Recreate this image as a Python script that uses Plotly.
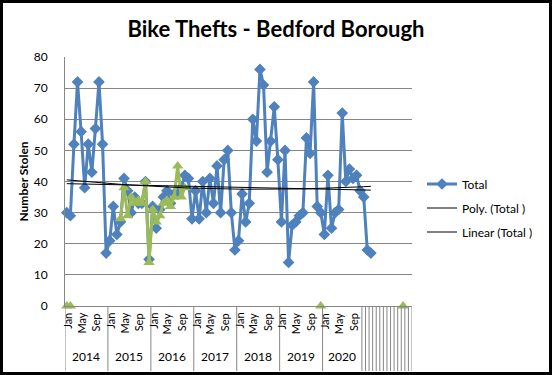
import numpy as np
import plotly.graph_objects as go

# ---------------- data ----------------
years = ["2014", "2015", "2016", "2017", "2018", "2019", "2020"]
months_in_group = [12, 12, 12, 12, 12, 12, 11]
month_labels = {0: "Jan", 4: "May", 8: "Sep"}
n_blank = 14  # unlabeled trailing categories

total = [30, 29, 52, 72, 56, 38, 52, 43, 57, 72, 52, 17,
         21, 32, 23, 27, 41, 37, 30, 35, 33, 33, 40, 15,
         32, 25, 31, 35, 37, 33, 36, 36, 38, 42, 41, 28,
         37, 28, 40, 30, 41, 33, 45, 30, 47, 50, 30, 18,
         21, 36, 27, 33, 60, 53, 76, 71, 43, 53, 64, 47,
         27, 50, 14, 26, 27, 29, 30, 54, 49, 72, 32, 30,
         23, 42, 25, 30, 31, 62, 40, 44, 41, 42, 37, 35,
         18, 17]

green_idx = [0, 1, 15, 16, 17, 18, 19, 20, 21, 22, 23, 24, 25, 26, 27, 28, 29,
             30, 31, 32, 33, 71, 94]
green_val = [0, 0, 28, 38, 29, 35, 33, 34, 33, 40, 14, 31, 27, 29, 33, 34, 32,
             35, 45, 35, 38, 0, 0]

# ---------------- derived ----------------
n_cat = sum(months_in_group) + n_blank
x_total = np.arange(len(total))
green = [None] * n_cat
for i, v in zip(green_idx, green_val):
    green[i] = v

lin = np.polyval(np.polyfit(x_total, total, 1), x_total)
poly = np.polyval(np.polyfit(x_total, total, 2), x_total)

W, H = 552, 375
ML, MR, MT, MB = 65, 140, 57, 69
PW, PH = W - ML - MR, H - MT - MB

def py(pixel_y):  # pixel row -> paper y
    return (H - MB - pixel_y) / PH

def px(pixel_x):
    return (pixel_x - ML) / PW

FONT = "Lato"
BLUE = "#4F81BD"
GREEN = "#9BBB59"
GRID = "#868686"

fig = go.Figure()
fig.add_trace(go.Scatter(
    x=x_total, y=total, mode="lines+markers", name="Total",
    line=dict(color=BLUE, width=3),
    marker=dict(symbol="diamond", size=9, color=BLUE),
    legendgroup="a", cliponaxis=False))
fig.add_trace(go.Scatter(
    x=list(range(n_cat)), y=green, mode="lines+markers", name="Other",
    line=dict(color=GREEN, width=3),
    marker=dict(symbol="triangle-up", size=10, color=GREEN),
    showlegend=False, connectgaps=False, cliponaxis=False))
fig.add_trace(go.Scatter(
    x=x_total, y=poly, mode="lines", name="Poly. (Total )",
    line=dict(color="black", width=1), legendgroup="b"))
fig.add_trace(go.Scatter(
    x=x_total, y=lin, mode="lines", name="Linear (Total )",
    line=dict(color="black", width=1), legendgroup="c"))

# category group dividers
starts = np.concatenate([[0], np.cumsum(months_in_group)])
bounds = list(starts - 0.5) + [starts[-1] + k + 0.5 for k in range(n_blank)]
shapes = []
for b in bounds:
    shapes.append(dict(type="line", xref="x", yref="paper", x0=b, x1=b,
                       y0=0, y1=py(371), line=dict(color=GRID, width=1)))
# outer border
shapes.append(dict(type="rect", xref="paper", yref="paper",
                   x0=px(1.5), x1=px(W - 1.5), y0=py(H - 1.5), y1=py(1.5),
                   line=dict(color="black", width=3)))

annotations = []
for s, n, yr in zip(starts, months_in_group, years):
    for m, lab in month_labels.items():
        if m < n:
            annotations.append(dict(x=s + m, y=py(311), xref="x", yref="paper",
                                    text=lab, textangle=-90, showarrow=False,
                                    xanchor="center", yanchor="top",
                                    font=dict(family=FONT, size=11, color="black")))
    annotations.append(dict(x=s + (n - 1) / 2, y=py(357), xref="x", yref="paper",
                            text=yr, showarrow=False, xanchor="center", yanchor="middle",
                            font=dict(family=FONT, size=12, color="black")))

fig.update_layout(
    width=W, height=H,
    margin=dict(l=ML, r=MR, t=MT, b=MB, pad=0),
    paper_bgcolor="white", plot_bgcolor="white",
    font=dict(family=FONT, size=12, color="black"),
    title=dict(text="<b>Bike Thefts - Bedford Borough</b>", x=0.5, xref="container",
               y=1 - 29 / H, yref="container", xanchor="center", yanchor="middle",
               font=dict(family=FONT, size=22, color="black")),
    xaxis=dict(range=[-0.5, n_cat - 0.5], showgrid=False, zeroline=False,
               showticklabels=False, showline=True, linecolor=GRID, linewidth=1,
               ticks=""),
    yaxis=dict(range=[0, 80], dtick=10, showgrid=True, gridcolor=GRID, gridwidth=1,
               zeroline=False, showline=True, linecolor=GRID, linewidth=1,
               ticks="", ticklabelstandoff=14,
               tickfont=dict(family=FONT, size=12, color="black"),
               title=dict(text="<b>Number Stolen</b>", standoff=2,
                          font=dict(family=FONT, size=12, color="black"))),
    legend=dict(x=px(422), y=py(208), xanchor="left", yanchor="middle",
                font=dict(family=FONT, size=12, color="black"),
                tracegroupgap=5, bgcolor="rgba(0,0,0,0)"),
    shapes=shapes, annotations=annotations,
)

fig.write_html("out.html", config={"displayModeBar": False},
               post_script="document.body.style.margin='0';")
